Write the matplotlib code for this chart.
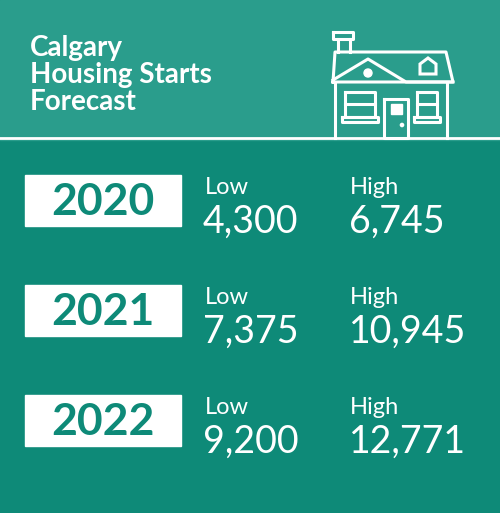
import matplotlib.pyplot as plt
from matplotlib.patches import Rectangle, Polygon, Circle

years = ['2020', '2021', '2022']
low = ['4,300', '7,375', '9,200']
high = ['6,745', '10,945', '12,771']
title = 'Calgary\nHousing Starts\nForecast'

head_c = '#2a9d8c'
body_c = '#0e8a78'
W, H = 500, 513

fig = plt.figure(figsize=(5, 5.13), dpi=100)
ax = fig.add_axes([0, 0, 1, 1])
ax.set_xlim(0, W)
ax.set_ylim(H, 0)
ax.axis('off')

ax.add_patch(Rectangle((0, 0), W, H, color=body_c))
ax.add_patch(Rectangle((0, 0), W, 140, color=head_c))
ax.plot([0, W], [138, 138], color='white', lw=2)

ax.text(30, 75, title, color='white', fontsize=20, fontfamily='Lato',
        fontweight='bold', va='center', ha='left', linespacing=1.05)

# house icon
lk = dict(color='white', lw=2.2, solid_joinstyle='round')
def box(x0, y0, x1, y1):
    ax.plot([x0, x1, x1, x0, x0], [y0, y0, y1, y1, y0], **lk)
box(333, 32, 353, 39)
ax.plot([338, 338], [39, 52], **lk)
ax.plot([350, 350], [39, 52], **lk)
ax.plot([333, 335, 446, 453, 333], [82, 52, 52, 82, 82], **lk)
ax.plot([333, 368, 406, 453], [80, 59, 82, 82], **lk)
ax.plot([335, 335], [82, 138], **lk)
ax.plot([447, 447], [82, 138], **lk)
box(345, 92, 375, 117); ax.plot([345, 375], [104, 104], **lk)
box(342, 117, 378, 122)
box(417, 92, 437, 117); ax.plot([417, 437], [104, 104], **lk)
box(414, 117, 440, 122)
box(384, 99, 408, 138)
ax.add_patch(Rectangle((391, 104), 11, 10, color='white'))
ax.add_patch(Circle((402, 125), 1.6, color='white'))
ax.add_patch(Circle((368, 73), 4, color='white'))
ax.add_patch(Polygon([(420, 74), (420, 64), (428, 58), (436, 64), (436, 74)],
                     closed=True, fill=False, ec='white', lw=2.2))

for i, (y, lo, hi) in enumerate(zip(years, low, high)):
    top = 175 + i * 110
    ax.add_patch(Rectangle((25, top), 156, 51, color='white'))
    ax.text(103, top + 27, y, color=body_c, fontsize=32, fontfamily='Lato',
            fontweight='bold', ha='center', va='center')
    ax.text(205, top + 12, 'Low', color='white', fontsize=17, fontfamily='Lato',
            ha='left', va='center')
    ax.text(350, top + 12, 'High', color='white', fontsize=17, fontfamily='Lato',
            ha='left', va='center')
    ax.text(203, top + 47, lo, color='white', fontsize=27, fontfamily='Lato',
            ha='left', va='center')
    ax.text(349, top + 47, hi, color='white', fontsize=27, fontfamily='Lato',
            ha='left', va='center')

fig.savefig('out.png', dpi=100)
